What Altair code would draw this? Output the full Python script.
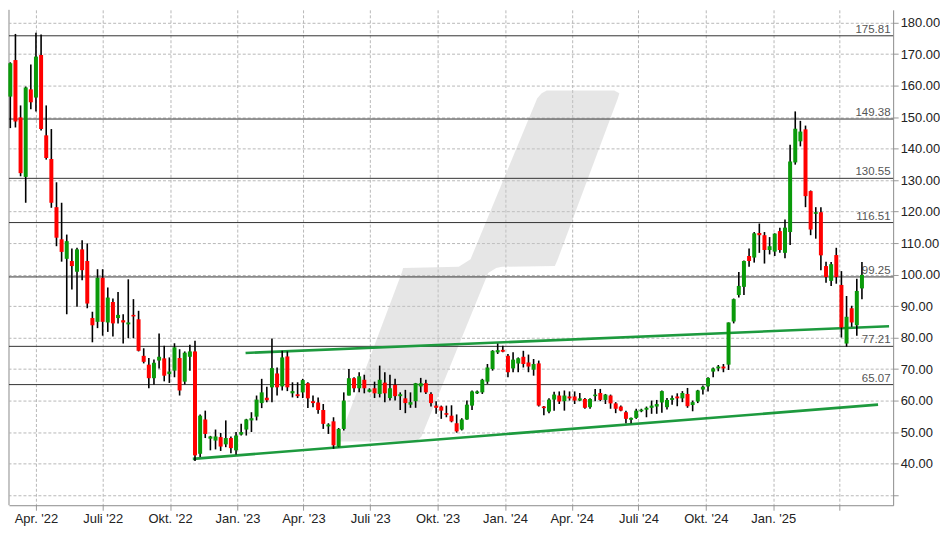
import altair as alt
import pandas as pd

# ---------------- data (weekly candles) ----------------
first_week = "2022-02-25"

opens = [156.5, 168.1, 149.9, 131.0, 158.8, 156.2, 169.7, 144.2, 136.7, 121.4,
         111.2, 105.0, 104.3, 100.9, 108.0, 104.3, 86.2, 85.0, 99.0, 84.8,
         91.3, 86.2, 85.5, 84.2, 87.2, 85.8, 74.2, 71.4, 67.1, 72.7,
         73.4, 68.4, 69.5, 73.5, 66.0, 73.9, 75.6, 43.1, 54.0, 47.9,
         47.3, 48.4, 46.1, 48.1, 44.2, 49.2, 50.8, 53.7, 54.9, 59.2,
         60.9, 64.2, 68.6, 64.5, 74.0, 62.3, 62.0, 62.6, 65.5, 59.8,
         59.4, 57.0, 51.8, 53.4, 45.4, 51.0, 61.6, 67.1, 63.9, 66.6,
         62.8, 63.9, 62.1, 65.7, 60.8, 65.0, 61.4, 60.7, 58.7, 59.8,
         64.5, 65.5, 62.1, 58.4, 58.1, 56.0, 55.2, 52.8, 50.8, 54.0,
         58.4, 62.3, 62.6, 66.0, 70.0, 75.3, 76.1, 74.2, 70.2, 71.8,
         73.9, 72.1, 69.8, 71.8, 58.1, 56.5, 60.3, 61.6, 59.8, 61.3,
         61.3, 60.0, 60.5, 57.9, 61.4, 62.4, 60.2, 61.6, 59.1, 58.1,
         56.3, 53.9, 54.5, 56.6, 57.1, 57.7, 58.1, 59.4, 57.9, 60.2,
         61.3, 60.7, 62.1, 58.6, 59.7, 63.5, 64.5, 69.2, 70.2, 70.8,
         71.4, 85.1, 93.5, 96.1, 105.9, 105.4, 113.2, 112.5, 107.8, 107.3,
         113.8, 106.9, 113.5, 135.6, 142.3, 146.1, 126.5, 119.3, 119.8, 102.7,
         98.0, 106.2, 96.7, 78.1, 89.3, 83.9, 95.6]

highs = [167.4, 176.4, 153.7, 159.7, 166.7, 176.8, 176.2, 153.7, 146.2, 129.3,
         122.8, 112.7, 108.3, 108.5, 110.9, 109.9, 88.2, 101.7, 101.7, 95.9,
         92.4, 94.5, 87.4, 98.5, 92.2, 88.5, 76.6, 73.5, 73.0, 81.3,
         77.4, 73.7, 78.2, 76.3, 75.6, 77.7, 79.0, 55.6, 56.8, 48.8,
         50.8, 49.7, 53.7, 48.6, 50.0, 52.6, 54.2, 56.3, 61.6, 66.9,
         64.4, 79.7, 70.5, 75.8, 75.6, 65.8, 65.8, 66.9, 65.8, 61.6,
         61.0, 58.9, 52.8, 54.7, 51.3, 62.6, 70.0, 67.4, 69.0, 68.2,
         63.9, 66.0, 71.1, 69.0, 68.2, 66.9, 62.6, 63.4, 62.6, 65.6,
         67.2, 66.6, 62.6, 59.8, 58.4, 58.4, 58.5, 55.6, 54.4, 60.0,
         63.2, 63.2, 66.9, 71.6, 76.0, 78.1, 77.4, 74.8, 75.3, 73.7,
         75.8, 74.6, 73.2, 72.7, 58.3, 60.7, 62.8, 62.9, 63.2, 62.9,
         62.9, 62.4, 60.8, 60.7, 63.7, 63.7, 62.1, 61.9, 59.5, 58.4,
         56.8, 54.6, 57.4, 57.4, 58.1, 60.0, 60.2, 63.2, 60.8, 61.6,
         62.3, 63.0, 64.0, 60.0, 63.4, 64.8, 67.4, 70.5, 71.3, 71.6,
         84.8, 92.4, 100.8, 104.5, 108.3, 113.5, 116.2, 113.5, 111.9, 113.1,
         114.9, 117.5, 141.2, 151.8, 148.8, 147.3, 126.7, 121.4, 121.4, 104.1,
         104.0, 108.5, 101.1, 93.2, 90.1, 98.7, 104.0]

lows = [146.5, 146.7, 131.2, 122.8, 152.5, 151.8, 145.7, 136.5, 121.2, 109.0,
        104.1, 87.4, 95.3, 89.8, 98.2, 89.3, 78.5, 83.0, 80.6, 81.8,
        80.3, 84.5, 78.1, 79.8, 79.8, 75.6, 71.8, 63.9, 65.0, 70.2,
        66.1, 65.6, 67.4, 61.6, 65.1, 69.5, 40.8, 42.1, 48.1, 44.2,
        44.5, 44.0, 45.2, 43.3, 42.9, 48.9, 48.9, 50.0, 53.7, 57.6,
        59.5, 59.5, 61.6, 63.2, 63.0, 61.0, 60.8, 60.8, 57.6, 57.9,
        55.8, 51.0, 49.4, 44.7, 45.2, 50.5, 61.6, 62.6, 62.6, 62.3,
        62.6, 60.8, 61.0, 59.5, 60.0, 60.0, 57.0, 56.0, 57.7, 57.7,
        62.6, 62.1, 58.1, 55.8, 54.2, 54.7, 53.1, 49.8, 50.5, 53.9,
        57.0, 62.1, 62.1, 65.3, 69.5, 74.8, 75.3, 67.4, 69.0, 69.0,
        70.5, 69.0, 67.9, 58.1, 55.3, 56.0, 56.8, 58.9, 56.8, 60.0,
        58.9, 59.8, 57.4, 57.4, 59.8, 59.8, 58.9, 57.4, 56.0, 56.6,
        52.8, 52.8, 54.2, 56.3, 54.7, 55.8, 55.8, 56.1, 57.2, 58.7,
        58.2, 59.5, 57.7, 56.6, 59.2, 61.9, 62.9, 67.4, 69.3, 69.0,
        69.7, 84.5, 92.7, 93.5, 102.5, 103.8, 106.9, 103.5, 106.4, 105.9,
        106.9, 105.2, 109.4, 134.9, 140.7, 121.4, 112.5, 111.4, 101.4, 97.4,
        96.4, 97.1, 80.0, 77.1, 83.4, 80.6, 92.2]

closes = [167.1, 148.6, 132.2, 159.4, 154.7, 169.2, 146.2, 137.0, 122.8, 111.7,
          107.2, 110.6, 102.7, 108.0, 101.4, 90.8, 83.9, 99.0, 85.0, 92.7,
          84.5, 87.2, 84.8, 84.8, 86.7, 75.8, 72.3, 67.1, 72.0, 73.9,
          67.9, 69.2, 76.9, 63.2, 75.2, 75.6, 42.6, 55.2, 49.4, 48.6,
          48.6, 45.4, 48.1, 44.9, 48.9, 50.0, 54.0, 54.4, 60.3, 62.6,
          60.1, 70.3, 64.2, 73.7, 64.2, 63.0, 61.4, 66.5, 60.7, 59.2,
          57.0, 52.6, 52.4, 45.8, 51.0, 60.0, 67.1, 63.9, 67.7, 63.9,
          63.5, 62.3, 66.6, 62.3, 63.9, 61.4, 62.0, 59.2, 59.5, 65.5,
          65.5, 62.6, 59.2, 57.7, 56.8, 55.5, 53.4, 50.2, 54.0, 58.7,
          62.9, 62.9, 66.6, 70.5, 75.8, 76.0, 75.5, 69.0, 73.0, 73.4,
          71.6, 70.8, 71.6, 58.4, 57.6, 60.3, 61.9, 59.7, 61.6, 60.7,
          60.0, 60.7, 57.7, 60.5, 61.9, 60.2, 61.9, 59.1, 57.4, 56.8,
          54.2, 54.5, 56.8, 57.1, 57.7, 58.4, 58.9, 63.0, 60.2, 60.8,
          60.7, 62.4, 58.2, 59.5, 63.2, 64.4, 67.2, 70.2, 70.8, 70.2,
          84.8, 92.2, 96.4, 104.3, 104.3, 113.1, 112.5, 107.8, 109.0, 113.0,
          107.8, 114.9, 135.9, 146.3, 145.4, 124.9, 114.3, 119.8, 106.1, 99.2,
          103.3, 99.2, 83.2, 86.6, 84.8, 94.8, 99.9]

# horizontal resistance / support levels
levels = [175.81, 149.38, 130.55, 116.51, 99.25, 77.21, 65.07]
level_label_date = "2025-06-10"

# green trend lines
support_dates = ["2022-11-01", "2025-05-24"]
support_values = [41.5, 58.7]
resistance_dates = ["2023-01-12", "2025-06-08"]
resistance_values = [75.1, 83.6]

# watermark outline in data units (value, left date, right date)
wm_values = [158.4, 157.6, 156.0, 104.9, 102.7, 102.5, 102.1, 100.5, 48.6, 47.0]
wm_left = ["2024-02-27", "2024-02-20", "2024-02-14", "2023-11-15",
           "2023-10-31T12:00", "2023-10-30", "2023-08-15", "2023-08-13",
           "2023-05-21", "2023-05-17"]
wm_right = ["2024-05-29", "2024-06-05", "2024-06-03", "2024-03-13",
            "2024-03-09", "2023-12-28", "2023-12-20", "2023-12-09",
            "2023-09-09", "2023-09-02"]

# axis ticks
quarters = [(2022, 4), (2022, 7), (2022, 10), (2023, 1), (2023, 4), (2023, 7),
            (2023, 10), (2024, 1), (2024, 4), (2024, 7), (2024, 10), (2025, 1),
            (2025, 4)]
month_names = {0: "Jan. ", 3: "Apr. ", 6: "Juli ", 9: "Okt. "}
unlabeled_quarter = (2025, 3)  # (year, 0-based month) shown without label
y_ticks = list(range(30, 190, 10))

x_domain = ["2022-02-23T05:00:00", "2025-06-13T14:00:00"]
y_domain = [26.77, 184.05]

# ---------------- tables ----------------
dates = pd.date_range(first_week, periods=len(opens), freq="7D")
candles = pd.DataFrame({
    "date": dates.strftime("%Y-%m-%dT%H:%M:%S"),
    "open": opens, "high": highs, "low": lows, "close": closes,
})
candles["dir"] = ["up" if c >= o else "down" for o, c in zip(opens, closes)]

levels_df = pd.DataFrame({"value": levels,
                          "label": [f"{v:.2f}" for v in levels],
                          "date": level_label_date})
trend_df = pd.DataFrame({
    "date": support_dates + resistance_dates,
    "value": support_values + resistance_values,
    "line": ["support"] * 2 + ["resistance"] * 2,
})
wm_df = pd.DataFrame({"value": wm_values, "left": wm_left, "right": wm_right})
frame_df = pd.DataFrame({"date": [x_domain[0]]})

FONT = "Liberation Sans"
xscale = alt.Scale(domain=x_domain, nice=False, padding=0)
yscale = alt.Scale(domain=y_domain, nice=False, zero=False, padding=0)

expr_month = " : ".join(
    f"month(datum.value)=={m} ? '{n}'" for m, n in month_names.items() if m != 9
) + f" : '{month_names[9]}'"
x_label_expr = (
    f"(year(datum.value)=={unlabeled_quarter[0]} && month(datum.value)=={unlabeled_quarter[1]}) ? '' : "
    f"({expr_month}) + \"'\" + timeFormat(datum.value, '%y')"
)

x_axis = alt.Axis(
    values=[alt.DateTime(year=y, month=m, date=1) for y, m in quarters],
    labelExpr=x_label_expr, title=None, grid=True, gridDash=[3, 2],
    gridColor="#b8b8b8", gridWidth=1, tickSize=5, tickColor="#9a9a9a",
    domainColor="#8c8c8c", labelFont=FONT, labelFontSize=13, labelColor="#222222",
    labelPadding=2, labelOverlap=False, labelFlush=False,
)
y_axis = alt.Axis(
    orient="right", values=y_ticks,
    labelExpr="datum.value < 40 ? '' : format(datum.value, '.2f')",
    title=None, grid=True, gridDash=[3, 2], gridColor="#b8b8b8", gridWidth=1,
    tickSize=5, tickColor="#9a9a9a", domainColor="#8c8c8c",
    labelFont=FONT, labelFontSize=13, labelColor="#222222", labelPadding=2,
)


def X(field):
    return alt.X(field, scale=xscale, axis=x_axis, title=None)


def Y(field):
    return alt.Y(field, scale=yscale, axis=y_axis, title=None)


watermark = alt.Chart(wm_df).mark_area(
    orient="horizontal", color="#c8c8c8", opacity=0.45
).encode(y=Y("value:Q"), x=X("left:T"), x2="right:T")

left_frame = alt.Chart(frame_df).mark_rule(color="#8c8c8c", strokeWidth=1).encode(
    x=X("date:T")
)

level_rules = alt.Chart(levels_df).mark_rule(color="#333333", strokeWidth=1).encode(
    y=Y("value:Q")
)
level_text = alt.Chart(levels_df).mark_text(
    align="right", baseline="alphabetic", dy=-3, font=FONT, fontSize=11.5,
    color="#555555"
).encode(x=X("date:T"), y=Y("value:Q"), text="label:N")

trend = alt.Chart(trend_df).mark_line(color="#1d9a3e", strokeWidth=2.6).encode(
    x=X("date:T"), y=Y("value:Q"), detail="line:N"
)

wicks = alt.Chart(candles).mark_rule(color="#000000", strokeWidth=1.6).encode(
    x=X("date:T"), y=Y("low:Q"), y2="high:Q"
)
bodies = alt.Chart(candles).mark_bar(size=4).encode(
    x=X("date:T"),
    y=Y("open:Q"),
    y2="close:Q",
    color=alt.Color("dir:N", scale=alt.Scale(domain=["up", "down"],
                                             range=["#0a9a0a", "#ff0000"]),
                    legend=None),
)

chart = alt.layer(
    watermark, left_frame, level_rules, level_text, trend, wicks, bodies
).properties(
    width=887, height=497,
    padding={"left": 0, "top": 0, "right": 0, "bottom": 0},
    background="#ffffff",
).configure_view(stroke=None)

chart.save("out.html", embed_options={"renderer": "svg", "actions": False})
